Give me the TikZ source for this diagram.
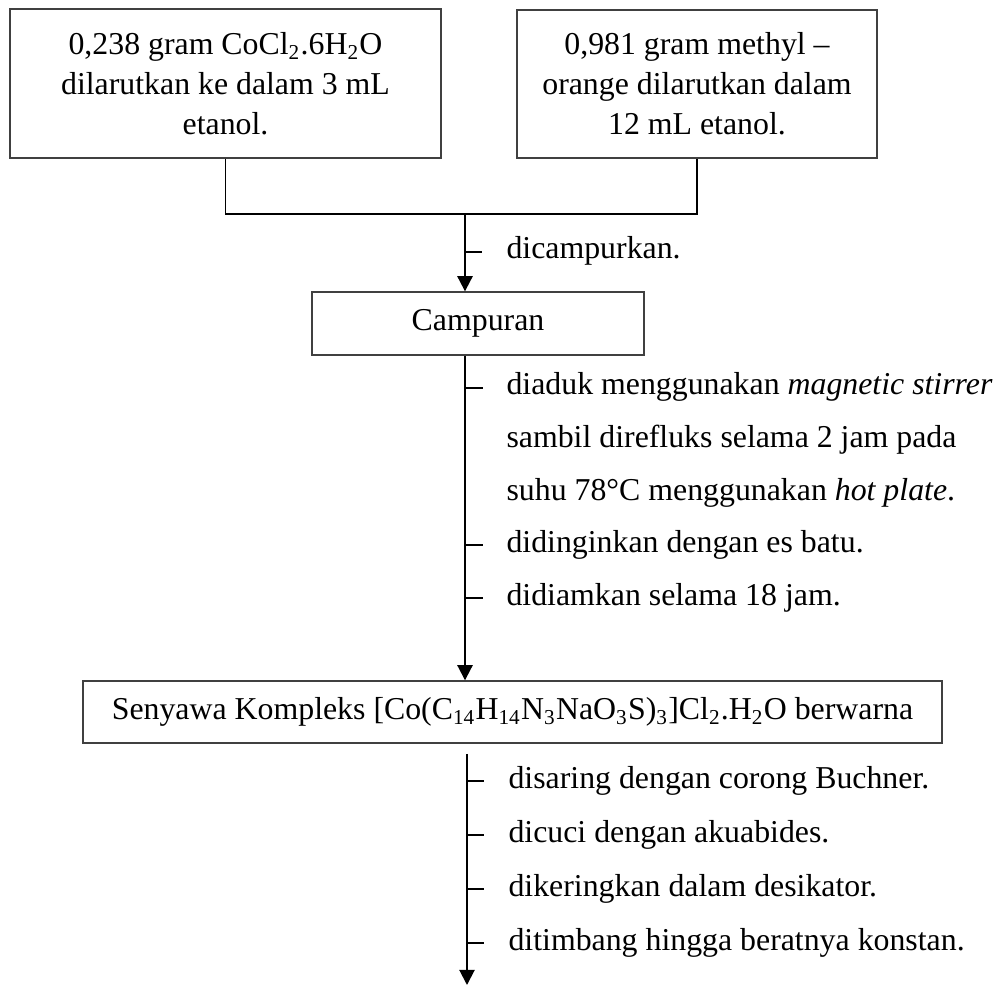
\documentclass[tikz,border=0pt]{standalone}
\usepackage{fontspec}
\setmainfont{Liberation Serif}
\usetikzlibrary{arrows.meta}
\tikzset{
  ebox/.style={draw=black!75,line width=0.5pt,align=center,inner sep=0pt},
  eline/.style={line width=0.75pt},
  earrow/.style={eline,-{Triangle[width=5.7pt,length=5.7pt]}},
  etick/.style={line width=0.4pt},
  estep/.style={anchor=base west,inner sep=0pt}
}
\newcommand{\sub}[1]{\textsubscript{#1}}

\begin{document}
\begin{tikzpicture}[x=0.377pt,y=-0.377pt,font=\fontsize{12}{15.1}\selectfont]
    \useasboundingbox (0,0) rectangle (1002,988);
    % starting solutions
    \node[ebox,minimum width=162.5pt,minimum height=56.2pt] (cocl) at (225.5,83.5)
        {0,238 gram CoCl\sub{2}.6H\sub{2}O\\dilarutkan ke dalam 3 mL\\etanol.};
    \node[ebox,minimum width=135.7pt,minimum height=55.8pt] (mo) at (697,84)
        {0,981 gram methyl --\\orange dilarutkan dalam\\12 mL etanol.};
    \node[ebox,minimum width=125.2pt,minimum height=23.75pt] (campuran) at (478,323.5) {Campuran};
    \node[ebox,minimum width=323.8pt,minimum height=23.4pt] (kompleks) at (512.5,712)
        {Senyawa Kompleks [Co(C\sub{14}H\sub{14}N\sub{3}NaO\sub{3}S)\sub{3}]Cl\sub{2}.H\sub{2}O berwarna};
    \coordinate (join) at (465,214);
    \coordinate (end) at (467,985);

    % mixing
    \draw[eline] (cocl.south) |- (join) -| (mo.south);
    \draw[earrow] (join) -- (join |- campuran.north);
    \draw[etick] (465,252) -- ++(17,0);
    \node[estep] (s0) at (506,259) {dicampurkan.};

    % reflux
    \draw[earrow] (campuran.south -| join) -- (kompleks.north -| join);
    \foreach \y in {388,545,598}
        \draw[etick] (466,\y) -- ++(17,0);
    \node[estep] (s1) at (506,395) {diaduk menggunakan \textit{magnetic stirrer}};
    \node[estep] (s2) at (506,447.5) {sambil direfluks selama 2 jam pada};
    \node[estep] (s3) at (506,500) {suhu 78°C menggunakan \textit{hot plate}.};
    \node[estep] (s4) at (506,552.5) {didinginkan dengan es batu.};
    \node[estep] (s5) at (506,605) {didiamkan selama 18 jam.};

    % work-up
    \draw[earrow] ([yshift=-3.8pt]kompleks.south -| end) -- (end);
    \foreach \y in {781,835,889,943}
        \draw[etick] (467,\y) -- ++(17,0);
    \node[estep] (t1) at (508,788) {disaring dengan corong Buchner.};
    \node[estep] (t2) at (508,842) {dicuci dengan akuabides.};
    \node[estep] (t3) at (508,896) {dikeringkan dalam desikator.};
    \node[estep] (t4) at (508,950) {ditimbang hingga beratnya konstan.};
\end{tikzpicture}
\end{document}
